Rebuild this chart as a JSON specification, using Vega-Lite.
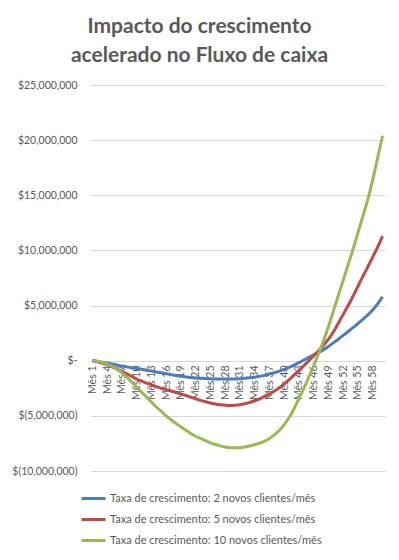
{
  "$schema": "https://vega.github.io/schema/vega-lite/v6.json",
  "width": 295,
  "height": 386,
  "autosize": {"type": "none"},
  "padding": {"left": 90, "top": 85, "right": 14, "bottom": 89},
  "background": "white",
  "title": {
    "text": ["Impacto do crescimento", "acelerado no Fluxo de caixa"],
    "font": "Lato",
    "fontSize": 21,
    "fontWeight": "bold",
    "color": "#595959",
    "anchor": "middle",
    "frame": "group",
    "dx": -38,
    "offset": 14,
    "lineHeight": 29
  },
  "data": {
    "values": [
      {"mes": 1, "2": 0, "5": 0, "10": 0},
      {"mes": 2, "2": -60000, "5": -100000, "10": -50000},
      {"mes": 3, "2": -130000, "5": -220000, "10": -150000},
      {"mes": 4, "2": -210000, "5": -360000, "10": -300000},
      {"mes": 5, "2": -300000, "5": -550000, "10": -500000},
      {"mes": 6, "2": -390000, "5": -750000, "10": -800000},
      {"mes": 7, "2": -480000, "5": -970000, "10": -1100000},
      {"mes": 8, "2": -560000, "5": -1200000, "10": -1500000},
      {"mes": 9, "2": -630000, "5": -1430000, "10": -1950000},
      {"mes": 10, "2": -700000, "5": -1660000, "10": -2400000},
      {"mes": 11, "2": -780000, "5": -1850000, "10": -2850000},
      {"mes": 12, "2": -860000, "5": -2030000, "10": -3300000},
      {"mes": 13, "2": -940000, "5": -2200000, "10": -3750000},
      {"mes": 14, "2": -1020000, "5": -2350000, "10": -4200000},
      {"mes": 15, "2": -1100000, "5": -2500000, "10": -4600000},
      {"mes": 16, "2": -1180000, "5": -2620000, "10": -5000000},
      {"mes": 17, "2": -1260000, "5": -2750000, "10": -5350000},
      {"mes": 18, "2": -1340000, "5": -2880000, "10": -5700000},
      {"mes": 19, "2": -1410000, "5": -3020000, "10": -6000000},
      {"mes": 20, "2": -1470000, "5": -3150000, "10": -6300000},
      {"mes": 21, "2": -1520000, "5": -3300000, "10": -6600000},
      {"mes": 22, "2": -1560000, "5": -3450000, "10": -6850000},
      {"mes": 23, "2": -1590000, "5": -3600000, "10": -7050000},
      {"mes": 24, "2": -1620000, "5": -3720000, "10": -7250000},
      {"mes": 25, "2": -1640000, "5": -3830000, "10": -7450000},
      {"mes": 26, "2": -1650000, "5": -3920000, "10": -7600000},
      {"mes": 27, "2": -1660000, "5": -3990000, "10": -7720000},
      {"mes": 28, "2": -1660000, "5": -4040000, "10": -7820000},
      {"mes": 29, "2": -1660000, "5": -4060000, "10": -7880000},
      {"mes": 30, "2": -1650000, "5": -4040000, "10": -7900000},
      {"mes": 31, "2": -1630000, "5": -3990000, "10": -7880000},
      {"mes": 32, "2": -1600000, "5": -3900000, "10": -7820000},
      {"mes": 33, "2": -1550000, "5": -3780000, "10": -7730000},
      {"mes": 34, "2": -1490000, "5": -3630000, "10": -7620000},
      {"mes": 35, "2": -1420000, "5": -3450000, "10": -7480000},
      {"mes": 36, "2": -1330000, "5": -3240000, "10": -7300000},
      {"mes": 37, "2": -1220000, "5": -3000000, "10": -7050000},
      {"mes": 38, "2": -1090000, "5": -2750000, "10": -6720000},
      {"mes": 39, "2": -950000, "5": -2450000, "10": -6320000},
      {"mes": 40, "2": -790000, "5": -2100000, "10": -5800000},
      {"mes": 41, "2": -600000, "5": -1720000, "10": -5150000},
      {"mes": 42, "2": -400000, "5": -1300000, "10": -4350000},
      {"mes": 43, "2": -180000, "5": -900000, "10": -3450000},
      {"mes": 44, "2": 60000, "5": -450000, "10": -2500000},
      {"mes": 45, "2": 300000, "5": 0, "10": -1500000},
      {"mes": 46, "2": 530000, "5": 450000, "10": -450000},
      {"mes": 47, "2": 760000, "5": 900000, "10": 650000},
      {"mes": 48, "2": 1000000, "5": 1400000, "10": 1800000},
      {"mes": 49, "2": 1300000, "5": 1950000, "10": 3100000},
      {"mes": 50, "2": 1620000, "5": 2600000, "10": 4500000},
      {"mes": 51, "2": 1950000, "5": 3400000, "10": 5900000},
      {"mes": 52, "2": 2300000, "5": 4200000, "10": 7300000},
      {"mes": 53, "2": 2650000, "5": 5000000, "10": 8700000},
      {"mes": 54, "2": 3000000, "5": 5850000, "10": 10100000},
      {"mes": 55, "2": 3370000, "5": 6750000, "10": 11600000},
      {"mes": 56, "2": 3750000, "5": 7650000, "10": 13100000},
      {"mes": 57, "2": 4150000, "5": 8500000, "10": 14600000},
      {"mes": 58, "2": 4600000, "5": 9400000, "10": 16400000},
      {"mes": 59, "2": 5150000, "5": 10300000, "10": 18400000},
      {"mes": 60, "2": 5800000, "5": 11300000, "10": 20400000}
    ]
  },
  "transform": [{"fold": ["2", "5", "10"], "as": ["serie", "valor"]}],
  "mark": {"type": "line", "strokeWidth": 3, "interpolate": "monotone"},
  "encoding": {
    "x": {
      "field": "mes",
      "type": "ordinal",
      "axis": {
        "values": [1, 4, 7, 10, 13, 16, 19, 22, 25, 28, 31, 34, 37, 40, 43, 46, 49, 52, 55, 58],
        "labelExpr": "'Mês ' + datum.value",
        "labelAngle": -90,
        "domain": false,
        "ticks": false,
        "grid": false,
        "title": null,
        "offset": -110,
        "labelFont": "Lato",
        "labelFontSize": 10.5,
        "labelColor": "#595959",
        "labelPadding": 4
      }
    },
    "y": {
      "field": "valor",
      "type": "quantitative",
      "scale": {"domain": [-10000000, 25000000], "nice": false, "zero": false},
      "axis": {
        "values": [-10000000, -5000000, 0, 5000000, 10000000, 15000000, 20000000, 25000000],
        "labelExpr": "datum.value == 0 ? '$-' : (datum.value < 0 ? '$(' + format(-datum.value, ',') + ')' : '$' + format(datum.value, ','))",
        "domain": false,
        "ticks": false,
        "gridColor": "#D9D9D9",
        "gridWidth": 1,
        "title": null,
        "labelPadding": 13,
        "labelFont": "Lato",
        "labelFontSize": 10.5,
        "labelColor": "#595959"
      }
    },
    "color": {
      "field": "serie",
      "type": "nominal",
      "sort": null,
      "scale": {"domain": ["2", "5", "10"], "range": ["#4A7EBB", "#BE4B48", "#98B954"]},
      "legend": {
        "orient": "none",
        "legendX": -10,
        "legendY": 400,
        "direction": "vertical",
        "title": null,
        "symbolType": "stroke",
        "symbolStrokeWidth": 3,
        "symbolSize": 576,
        "rowPadding": 1,
        "labelOffset": 3,
        "labelLimit": 400,
        "labelExpr": "'Taxa de crescimento: ' + datum.label + ' novos clientes/mês'",
        "labelFont": "Lato",
        "labelFontSize": 11,
        "labelColor": "#595959"
      }
    }
  },
  "config": {"view": {"stroke": null}}
}
